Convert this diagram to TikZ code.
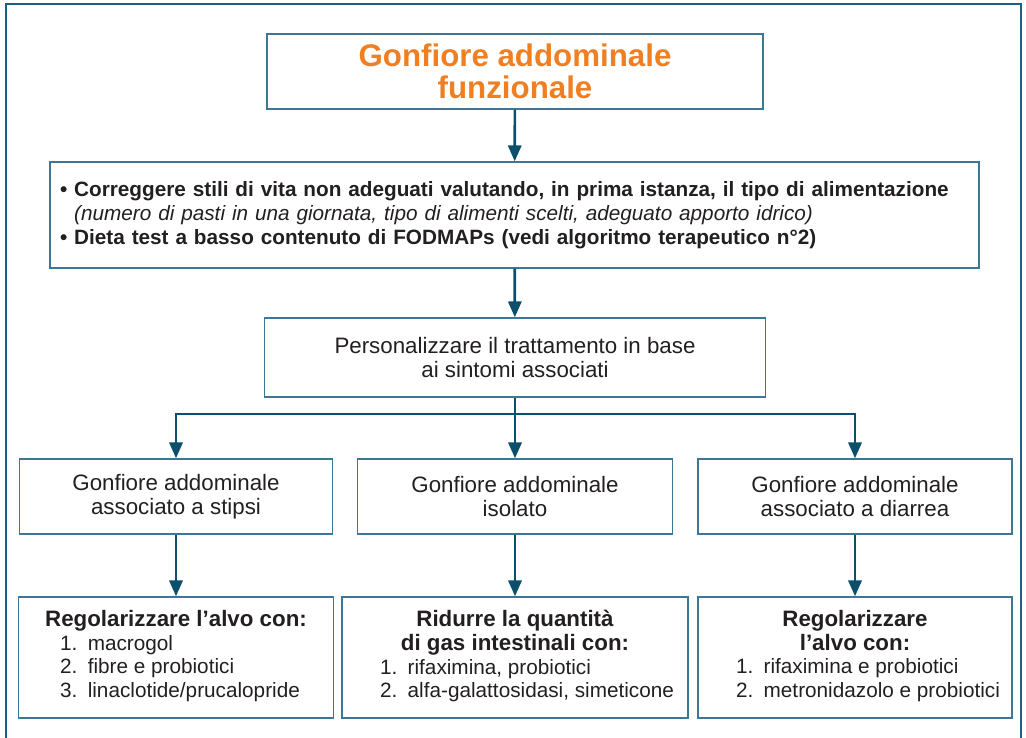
\documentclass[tikz,border=0pt]{standalone}
\usepackage{fontspec}
\setmainfont{Liberation Sans}
\usetikzlibrary{arrows.meta}
\definecolor{frameblue}{HTML}{1F5F80}
\definecolor{boxblue}{HTML}{3C7896}
\definecolor{arrowblue}{HTML}{0B4F6C}
\definecolor{titleorange}{HTML}{F07F22}
\definecolor{textgrey}{HTML}{231F20}
\newcommand{\cure}[1]{{\fontsize{11.8}{13.6}\selectfont\begin{tabular}[t]{@{}r@{\hspace{0.5em}}l@{}}#1\end{tabular}}}
\tikzset{
    RA1/.style ={rectangle, draw=boxblue, line width=0.8pt, text=textgrey, align=center, inner sep=0pt,
                 font=\fontsize{12.7}{13.6}\selectfont},
    RA2/.style ={RA1, text=titleorange, font=\fontsize{17.8}{18.2}\selectfont\bfseries},
    RA3/.style ={RA1, align=left, inner xsep=0.2cm, font=\fontsize{11.8}{13.6}\selectfont},
    AR/.style ={draw=arrowblue, line width=1.5pt, -{Triangle[width=7.5pt,length=9pt]}}}

\begin{document}
\begin{tikzpicture}
        \useasboundingbox (0,0) rectangle (20.52,-14.76);
        \draw[frameblue, line width=1pt] (0.12,-0.08) rectangle (20.42,-15.2);
        % top of the chart
        \node[RA2, minimum width=9.92cm, minimum height=1.5cm] (title) at (10.30,-1.43)
            {Gonfiore addominale\\funzionale};
        \node[RA3, minimum width=18.58cm, minimum height=2.12cm, text width=18.18cm] (life) at (10.29,-4.30)
            {\textbf{\textbullet\ Correggere stili di vita non adeguati valutando, in prima istanza, il tipo di alimentazione}\\
             \hphantom{\textbf{\textbullet\ }}\textit{(numero di pasti in una giornata, tipo di alimenti scelti, adeguato apporto idrico)}\\
             \textbf{\textbullet\ Dieta test a basso contenuto di FODMAPs (vedi algoritmo terapeutico n°2)}};
        \node[RA1, minimum width=10.02cm, minimum height=1.58cm] (pers) at (10.30,-7.15)
            {Personalizzare il trattamento in base\\ai sintomi associati};
        \coordinate (split) at (10.30,-8.28);
        % symptoms
        \node[RA1, minimum width=6.26cm, minimum height=1.5cm] (stip) at (3.52,-9.93)
            {Gonfiore addominale\\associato a stipsi};
        \node[RA1, minimum width=6.30cm, minimum height=1.5cm] (iso) at (10.30,-9.93)
            {Gonfiore addominale\\isolato};
        \node[RA1, minimum width=6.28cm, minimum height=1.5cm] (diar) at (17.10,-9.93)
            {Gonfiore addominale\\associato a diarrea};
        % treatments
        \node[RA1, minimum width=6.30cm, minimum height=2.42cm] (tstip) at (3.52,-13.15)
            {\textbf{Regolarizzare l’alvo con:}\\
             \hspace*{0.16cm}\cure{1.&macrogol\\ 2.&fibre e probiotici\\ 3.&linaclotide/prucalopride}};
        \node[RA1, minimum width=6.92cm, minimum height=2.42cm] (tiso) at (10.30,-13.15)
            {\textbf{Ridurre la quantità}\\\textbf{di gas intestinali con:}\\
             \hspace*{0.48cm}\cure{1.&rifaximina, probiotici\\ 2.&alfa-galattosidasi, simeticone}};
        \node[RA1, minimum width=6.28cm, minimum height=2.42cm] (tdiar) at (17.10,-13.15)
            {\textbf{Regolarizzare}\\\textbf{l’alvo con:}\\
             \hspace*{0.52cm}\cure{1.&rifaximina e probiotici\\ 2.&metronidazolo e probiotici}};
        \draw[AR] (title) -- (life);
        \draw[AR] (life) -- (pers);
        \draw[arrowblue, line width=1.5pt] (pers) -- (split);
        \draw[AR] (split) -| (stip);
        \draw[AR] (split) -- (iso);
        \draw[AR] (split) -| (diar);
        \draw[AR] (stip) -- (tstip);
        \draw[AR] (iso) -- (tiso);
        \draw[AR] (diar) -- (tdiar);
    \end{tikzpicture}
\end{document}
